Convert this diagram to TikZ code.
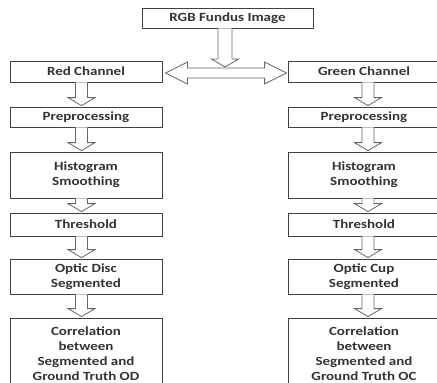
\documentclass[tikz,border=0pt]{standalone}
\usepackage{fontspec}
\setmainfont{Carlito}[FakeStretch=1.2]
\usetikzlibrary{calc}
\begin{document}
\begin{tikzpicture}[x=1pt,y=1pt,
  box/.style={draw=black!75, line width=0.8pt, rectangle, minimum width=152pt, inner sep=0pt,
    align=center, font=\fontsize{12.5}{15}\selectfont\bfseries, text=black!80},
  arr/.style={draw=black!60, line width=0.8pt, fill=white, line join=miter}]
\useasboundingbox (0,0) rectangle (437,-383);
\clip (0,0) rectangle (437,-383);
\newcommand\fatarrow[3]{%
  \draw[arr] let \p1=($(#1.south)+(#3,0)$), \p2=($(#2.north)+(#3,0)$) in
   (\x1-6pt,\y1) -- (\x1-6pt,\y2+9pt) -- (\x1-13.5pt,\y2+9pt) -- (\x1,\y2+1pt)
   -- (\x1+13.5pt,\y2+9pt) -- (\x1+6pt,\y2+9pt) -- (\x1+6pt,\y1);}
% boxes
\node[box, minimum width=171pt, minimum height=20pt] (rgb) at (227.5,-18) {RGB Fundus Image};
\node[box, minimum height=21pt] (red) at (86,-71.5) {Red Channel};
\node[box, minimum height=21pt] (green) at (364,-71.5) {Green Channel};
\node[box, minimum height=20pt] (preL) at (86,-117) {Preprocessing};
\node[box, minimum height=20pt] (preR) at (364,-117) {Preprocessing};
\node[box, minimum height=46pt] (histL) at (86,-175) {Histogram\\Smoothing};
\node[box, minimum height=46pt] (histR) at (364,-175) {Histogram\\Smoothing};
\node[box, minimum height=23pt] (thrL) at (86,-224.5) {Threshold};
\node[box, minimum height=23pt] (thrR) at (364,-224.5) {Threshold};
\node[box, minimum height=35pt] (odL) at (86,-276.5) {Optic Disc\\Segmented};
\node[box, minimum height=35pt] (ocR) at (364,-276.5) {Optic Cup\\Segmented};
\node[box, minimum height=72pt] (corrL) at (86,-354) {Correlation\\between\\Segmented and\\Ground Truth OD};
\node[box, minimum height=72pt] (corrR) at (364,-354) {Correlation\\between\\Segmented and\\Ground Truth OC};
% double arrow between channels
\coordinate (split) at (225,-67);
\draw[arr] let \p1=($(red.east)+(3pt,-1.5pt)$), \p2=($(green.west)+(-1pt,-1.5pt)$) in
  (\x1,\y1) -- (\x1+22pt,\y1+11pt) -- (\x1+22pt,\y1+5pt) -- (\x2-22pt,\y1+5pt)
  -- (\x2-22pt,\y1+11pt) -- (\x2,\y1) -- (\x2-22pt,\y1-11pt) -- (\x2-22pt,\y1-5pt)
  -- (\x1+22pt,\y1-5pt) -- (\x1+22pt,\y1-11pt) -- cycle;
% top arrow
\draw[arr] let \p1=($(rgb.south)+(-2.5pt,0)$), \p2=(split) in
   (\x2-7pt,\y1) -- (\x2-7pt,\y2+8pt) -- (\x2-13.5pt,\y2+8pt) -- (\x2,\y2)
   -- (\x2+13.5pt,\y2+8pt) -- (\x2+7pt,\y2+8pt) -- (\x2+7pt,\y1);
% column arrows
\fatarrow{red}{preL}{-4.5pt}
\fatarrow{preL}{histL}{-4.5pt}
\fatarrow{histL}{thrL}{-4.5pt}
\fatarrow{thrL}{odL}{-4.5pt}
\fatarrow{odL}{corrL}{-4.5pt}
\fatarrow{green}{preR}{4pt}
\fatarrow{preR}{histR}{4pt}
\fatarrow{histR}{thrR}{4pt}
\fatarrow{thrR}{ocR}{4pt}
\fatarrow{ocR}{corrR}{4pt}
\end{tikzpicture}
\end{document}
